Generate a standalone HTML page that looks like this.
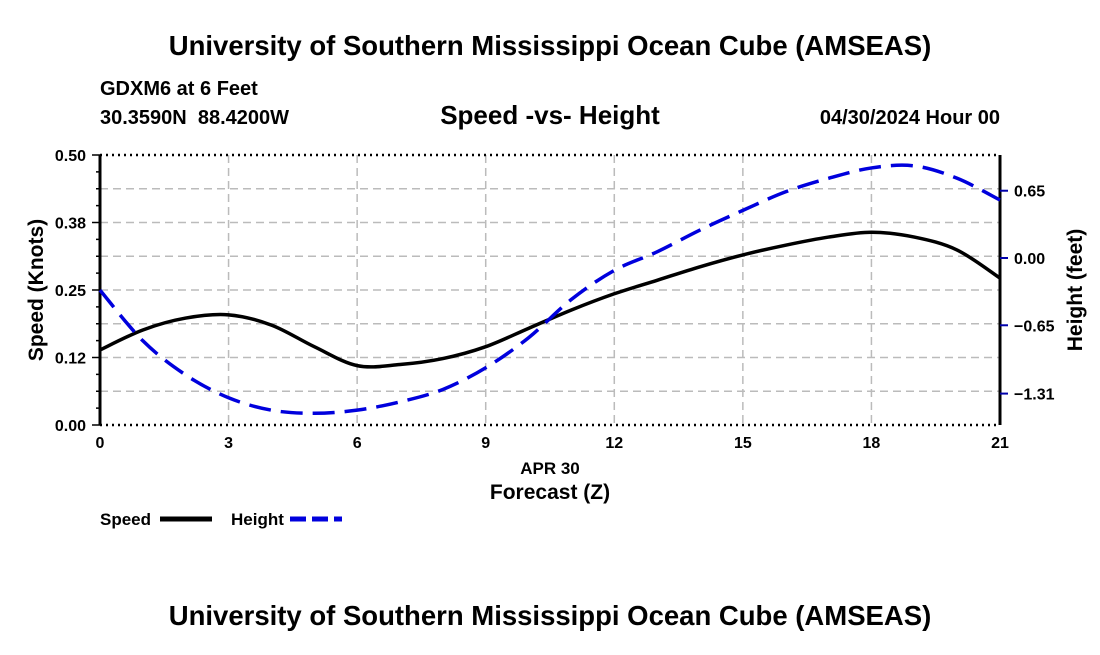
<!DOCTYPE html>
<html><head><meta charset="utf-8"><style>
body{margin:0;background:#fff;width:1100px;height:650px;overflow:hidden}
svg text{font-family:"Liberation Sans",Arial,sans-serif;font-weight:bold;fill:#000}
</style></head><body>
<svg id="chart" width="1100" height="650" xmlns="http://www.w3.org/2000/svg">
<text x="550" y="55" font-size="27.5" text-anchor="middle">University of Southern Mississippi Ocean Cube (AMSEAS)</text>
<text x="100" y="95" font-size="20">GDXM6 at 6 Feet</text>
<text x="100" y="124" font-size="20" xml:space="preserve">30.3590N  88.4200W</text>
<text x="550" y="124" font-size="26" text-anchor="middle">Speed -vs- Height</text>
<text x="1000" y="124" font-size="20" text-anchor="end">04/30/2024 Hour 00</text>
<g id="grid"></g><g id="axes"></g><g id="series"></g>
<text transform="translate(43,290) rotate(-90)" font-size="21" text-anchor="middle">Speed (Knots)</text>
<text transform="translate(1082,290) rotate(-90)" font-size="21" text-anchor="middle">Height (feet)</text>
<text x="550" y="474" font-size="17" text-anchor="middle">APR 30</text>
<text x="550" y="499" font-size="21" text-anchor="middle">Forecast (Z)</text>
<g><text x="100" y="525" font-size="17">Speed</text><line x1="160" y1="519" x2="212" y2="519" stroke="#000" stroke-width="5"/></g>
<g><text x="231" y="525" font-size="17">Height</text><line x1="290" y1="519" x2="342" y2="519" stroke="#0000dd" stroke-width="5" stroke-dasharray="16,6"/></g>
<text x="550" y="625" font-size="27.5" text-anchor="middle">University of Southern Mississippi Ocean Cube (AMSEAS)</text>
</svg>
<script>
const hours=[0,1,2,3,4,5,6,7,8,9,10,11,12,13,14,15,16,17,18,19,20,21];
const speed=[0.139,0.176,0.198,0.204,0.185,0.145,0.110,0.112,0.123,0.145,0.179,0.213,0.243,0.268,0.293,0.315,0.333,0.348,0.357,0.348,0.324,0.272];
const height=[-0.31,-0.80,-1.13,-1.35,-1.47,-1.50,-1.47,-1.39,-1.27,-1.06,-0.77,-0.40,-0.12,0.06,0.27,0.46,0.64,0.77,0.87,0.89,0.77,0.56];
const xTicks=[0,3,6,9,12,15,18,21];
const yTicks=[0,0.125,0.25,0.375,0.5];
const yTickLabels=["0.00","0.12","0.25","0.38","0.50"];
const y2Ticks=[0.65,0,-0.65,-1.31];
const y2TickLabels=["0.65","0.00","\u22120.65","\u22121.31"];
const L=100,R=1000,T=155,B=425;
const X=h=>L+(h-0)/21*(R-L);
const Y=v=>B-v/0.5*(B-T);
const Y2=v=>258-v*103.5;
const NS="http://www.w3.org/2000/svg";
function mk(parent,tag,attrs){const e=document.createElementNS(NS,tag);for(const k in attrs)e.setAttribute(k,attrs[k]);document.getElementById(parent).appendChild(e);return e;}
for(let i=1;i<8;i++){const g=mk('grid','line',{x1:L,x2:R,y1:Y(i*0.0625),y2:Y(i*0.0625),stroke:'#bbb','stroke-width':1.5,'stroke-dasharray':'8,5'});

}
xTicks.forEach(t=>{if(t>0&&t<21){const g=mk('grid','line',{x1:X(t),x2:X(t),y1:T,y2:B,stroke:'#bbb','stroke-width':1.5,'stroke-dasharray':'8,5'});

}
const lb=mk('axes','text',{x:X(t),y:B+23,'font-size':16,'text-anchor':'middle'});lb.textContent=t;

});
[T,B].forEach(y=>{const b=mk('axes','line',{x1:L,x2:R,y1:y,y2:y,stroke:'#000','stroke-width':2.5,'stroke-dasharray':'2,4'});

});
const la=mk('axes','line',{x1:L,x2:L,y1:T,y2:B,stroke:'#000','stroke-width':3});


const ra=mk('axes','line',{x1:R,x2:R,y1:T,y2:B,stroke:'#000','stroke-width':3});


for(let i=0;i<=16;i++){const tk=mk('axes','line',{x1:L-(i%4==0?8:4),x2:L,y1:Y(i/32),y2:Y(i/32),stroke:'#000','stroke-width':1.5});

}
yTicks.forEach((v,i)=>{const lb=mk('axes','text',{x:L-14,y:Y(v)+6,'font-size':16,'text-anchor':'end'});lb.textContent=yTickLabels[i];

});
y2Ticks.forEach((v,i)=>{const tk=mk('axes','line',{x1:R,x2:R+8,y1:Y2(v),y2:Y2(v),stroke:'#0000aa','stroke-width':2});


const lb=mk('axes','text',{x:R+14,y:Y2(v)+6,'font-size':16});lb.textContent=y2TickLabels[i];

});
function smooth(pts){let d='M'+pts[0][0]+','+pts[0][1];for(let i=0;i<pts.length-1;i++){const p0=pts[i-1]||pts[i],p1=pts[i],p2=pts[i+1],p3=pts[i+2]||p2;
d+=' C'+(p1[0]+(p2[0]-p0[0])/6)+','+(p1[1]+(p2[1]-p0[1])/6)+' '+(p2[0]-(p3[0]-p1[0])/6)+','+(p2[1]-(p3[1]-p1[1])/6)+' '+p2[0]+','+p2[1];}return d;}
const sp=mk('series','path',{d:smooth(hours.map((h,i)=>[X(h),Y(speed[i])])),fill:'none',stroke:'#000','stroke-width':3.5});


const hp=mk('series','path',{d:smooth(hours.map((h,i)=>[X(h),Y2(height[i])])),fill:'none',stroke:'#0000dd','stroke-width':3.5,'stroke-dasharray':'22,10'});


</script>
</body></html>
